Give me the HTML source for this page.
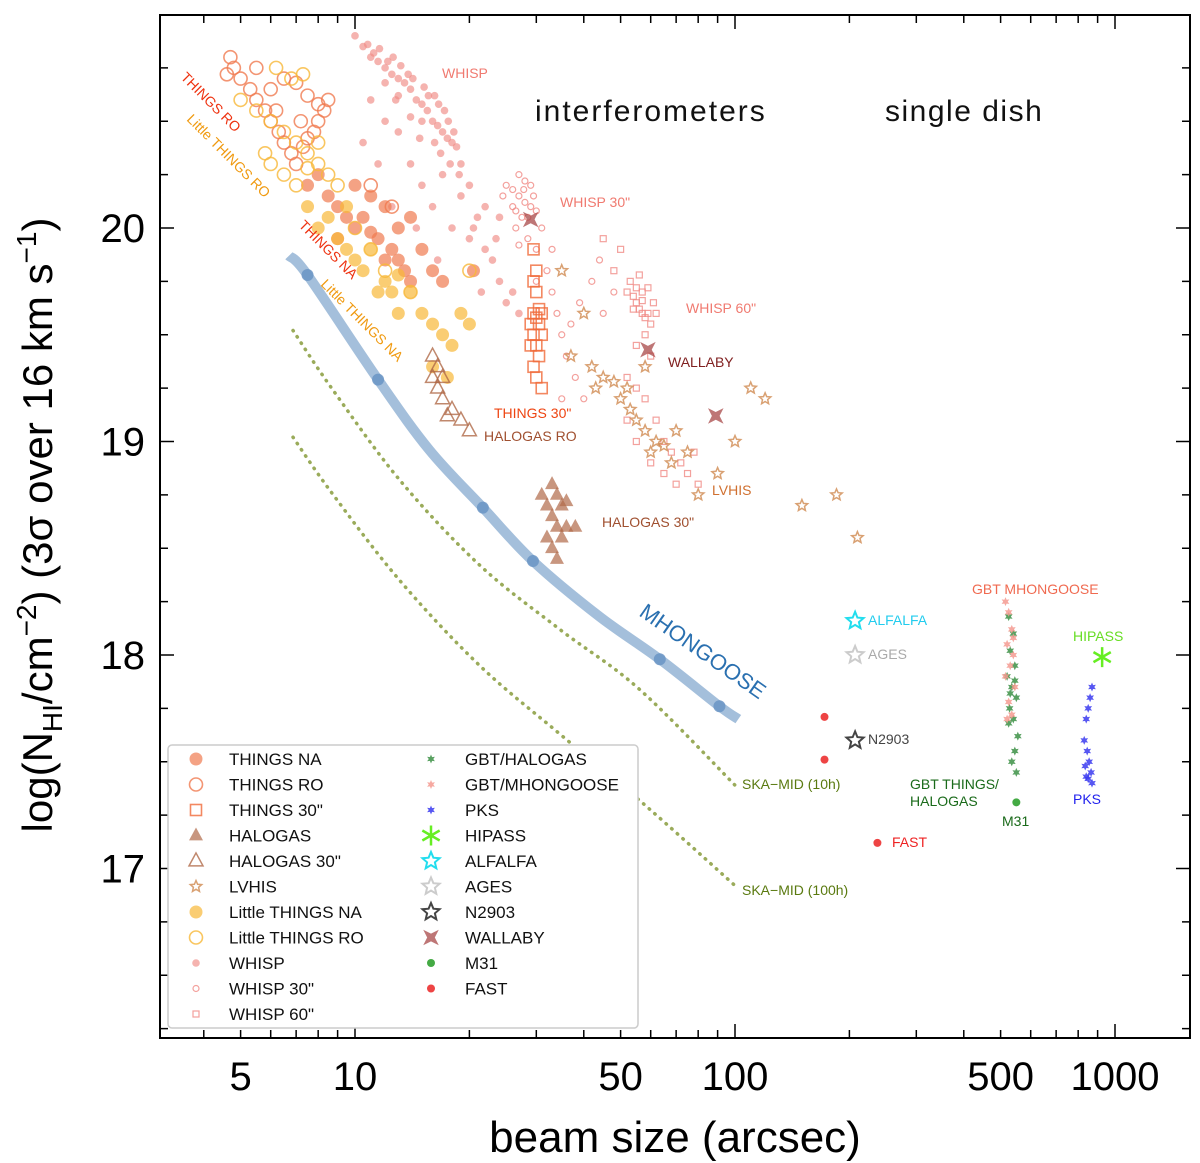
<!DOCTYPE html>
<html><head><meta charset="utf-8">
<style>
html,body{margin:0;padding:0;background:#fff;}
svg{display:block;font-family:"Liberation Sans",sans-serif;}
</style></head>
<body>
<svg id="chart" width="1200" height="1163" viewBox="0 0 1200 1163" xmlns="http://www.w3.org/2000/svg">
<g id="plot"></g>
</svg>
<script>
// ---- data ----
const xTicks=[5,10,50,100,500,1000];
const yTicks=[17,18,19,20];
const mhongooseLine=[[6.7,19.87],[7.5,19.78],[11.5,19.29],[15.7,18.96],[21.7,18.69],[29.4,18.44],[44,18.18],[63.4,17.98],[91,17.76],[102,17.70]];
const mhongooseDots=[[7.5,19.78],[11.5,19.29],[21.7,18.69],[29.4,18.44],[63.4,17.98],[91,17.76]];
const ska10=[[6.87,19.52],[8.6,19.26],[13.1,18.82],[21.3,18.42],[34.6,18.12],[56,17.84],[100,17.39]];
const ska100=[[6.87,19.02],[8.6,18.77],[13.1,18.35],[21.3,17.95],[34.6,17.63],[56,17.32],[100,16.92]];
const whisp=[[10,20.9],[10.5,20.85],[11,20.8],[11.5,20.78],[12,20.75],[12.5,20.72],[13,20.7],[13.5,20.68],[14,20.65],[14.5,20.6],[15,20.58],[15.5,20.55],[16,20.5],[16.5,20.48],[17,20.45],[17.5,20.42],[18,20.4],[18.5,20.38],[11,20.6],[12,20.5],[10.5,20.4],[13,20.45],[14,20.3],[15,20.2],[16,20.1],[17,20.25],[18,20.0],[19,20.15],[20,19.95],[21,20.05],[22,19.9],[23,19.85],[24,19.75],[26,19.7],[25,19.65],[12.5,20.1],[11.5,20.3],[14.5,20.0],[16.5,19.85],[13,20.62],[12,20.68],[14,20.52],[15,20.5],[16.8,20.35],[19,20.3],[20,20.2],[22,20.1],[24,20.05],[27,19.6],[11.2,20.82],[12.2,20.78],[13.8,20.72],[15.2,20.66],[16.2,20.62],[17.2,20.55],[10.8,20.86],[11.6,20.84],[12.6,20.8],[13.2,20.76],[14.2,20.7],[15.6,20.62],[16.6,20.58],[17.6,20.5],[18.2,20.45],[12.8,20.6],[14.8,20.42],[16.2,20.4],[18.8,20.25],[21.5,19.7],[23.5,19.95],[20.5,20.0],[17.8,20.3]];
const whisp30=[[25,20.2],[26,20.18],[27,20.15],[28,20.12],[29,20.1],[27.5,20.05],[26.5,20.0],[28.5,19.95],[30,19.9],[29,20.2],[26,20.1],[28,20.22],[27,19.92],[30,20.08],[31,20.0],[24.5,20.15],[32,19.8],[33,19.7],[34,19.6],[35,19.5],[36,19.4],[38,19.3],[40,19.2],[35,19.2],[37,19.55],[39,19.65],[42,19.75],[45,19.6],[44,19.85],[48,19.7],[30,19.75],[33,19.9],[27,20.25],[29.5,20.15],[26.5,20.08],[28.5,20.05],[27.8,20.18]];
const whisp60=[[52,19.7],[54,19.68],[55,19.65],[56,19.62],[57,19.6],[58,19.58],[59,19.6],[60,19.55],[53,19.75],[55,19.72],[57,19.7],[61,19.65],[62,19.6],[58,19.5],[55,19.45],[60,19.4],[52,19.3],[55,19.25],[58,19.2],[62,19.1],[65,19.0],[68,18.95],[72,18.9],[75,18.85],[70,18.8],[80,18.8],[78,18.95],[65,18.85],[60,18.9],[50,19.9],[48,19.8],[45,19.95],[55,19.0],[52,19.1],[56,19.78],[59,19.72],[54,19.62],[57,19.66]];
const thingsNA=[[7.5,20.2],[8,20.25],[8.5,20.15],[9,20.1],[9.5,20.05],[10,20.0],[10.5,20.05],[11,19.98],[11.5,19.95],[12,20.1],[12.5,19.9],[13,19.85],[13.5,19.8],[14,19.75],[9,19.95],[10,20.2],[11,20.15],[12,19.85],[13,20.0],[14,20.05],[15,19.9],[16,19.8],[17,19.75],[20.5,19.8]];
const thingsRO=[[4.7,20.8],[4.8,20.75],[5,20.7],[5.3,20.65],[5.5,20.6],[5.8,20.55],[6,20.5],[6.3,20.45],[6.5,20.4],[6.8,20.35],[7,20.3],[7.3,20.38],[7.5,20.42],[7.8,20.45],[8,20.5],[8.3,20.55],[8.5,20.6],[6,20.65],[6.5,20.7],[7,20.68],[7.5,20.62],[8,20.58],[5.5,20.75],[6.2,20.55],[7.2,20.5],[11,20.2],[12.5,20.1],[4.6,20.72]];
const things30=[[29.5,19.9],[30,19.8],[29.5,19.75],[30,19.7],[30.5,19.62],[29.5,19.6],[30,19.58],[30.5,19.55],[29.5,19.5],[30,19.45],[30.5,19.4],[29.5,19.35],[30,19.3],[31,19.25],[31,19.5],[31,19.6],[29,19.55],[29,19.45]];
const ltNA=[[7.5,20.1],[8,20.0],[8.5,20.05],[9,19.95],[9.5,19.9],[10,19.85],[10.5,19.8],[11,19.9],[12,19.75],[12.5,19.7],[13,19.78],[14,19.7],[15,19.6],[16,19.55],[17,19.5],[18,19.45],[19,19.6],[20,19.55],[16,19.35],[17.5,19.3],[13,19.6],[11.5,19.7],[9.5,20.1]];
const ltRO=[[5,20.6],[5.5,20.55],[6,20.5],[6.5,20.45],[7,20.4],[7.5,20.35],[8,20.3],[8.5,20.25],[9,20.2],[6,20.3],[6.5,20.25],[7,20.2],[7.5,20.28],[8,20.4],[6.2,20.75],[6.8,20.7],[7.3,20.72],[5.8,20.35],[10,20.0],[11,19.9],[12,19.8],[14,19.7],[20,19.8]];
const halogas=[[31,18.75],[32,18.7],[33,18.65],[34,18.6],[35,18.55],[36,18.6],[33,18.5],[34,18.75],[35,18.7],[32,18.55],[34,18.45],[36,18.72],[38,18.6],[33,18.8]];
const halogas30=[[16,19.4],[16.5,19.35],[17,19.3],[16.5,19.25],[17,19.2],[18,19.15],[19,19.1],[17.5,19.12],[20,19.05],[16,19.3]];
const lvhis=[[35,19.8],[40,19.6],[37,19.4],[42,19.35],[45,19.3],[43,19.25],[48,19.28],[52,19.25],[50,19.2],[55,19.1],[58,19.05],[62,19.0],[65,18.98],[60,18.95],[68,18.9],[70,19.05],[75,18.95],[80,18.75],[90,18.85],[100,19.0],[110,19.25],[120,19.2],[150,18.7],[185,18.75],[210,18.55],[58,19.35],[53,19.15]];
const gbtHalogas=[[525,18.18],[540,18.1],[530,18.02],[545,17.95],[520,17.9],[535,17.85],[550,17.8],[528,17.75],[540,17.7],[525,17.68],[555,17.62],[545,17.55],[535,17.5],[550,17.45],[530,17.82],[545,17.88]];
const gbtMhongoose=[[515,18.25],[525,18.2],[535,18.12],[520,18.05],[540,18.0],[530,17.95],[515,17.9],[545,17.85],[525,17.78],[535,17.72],[520,17.7],[540,18.08]];
const pks=[[870,17.85],[860,17.8],[850,17.75],[840,17.7],[830,17.6],[845,17.55],[855,17.5],[835,17.48],[865,17.45],[850,17.42],[870,17.4],[840,17.43]];
const hipass=[[925,17.99]];
const alfalfa=[[207,18.16]];
const ages=[[207,18.0]];
const n2903=[[207,17.6]];
const wallaby=[[29,20.04],[59,19.43],[89,19.12]];
const m31=[[550,17.31]];
const fast=[[172,17.71],[172,17.51],[237,17.12]];

// ---- axes ----
const X0=160,X1=1190,Y0=15,Y1=1038;
const X=b=>355+(Math.log10(b)-1)*380;
const Y=v=>228-(v-20)*213.5;
const NS="http://www.w3.org/2000/svg";
const svg=document.getElementById('chart');
const plot=document.getElementById('plot');
function el(tag,attrs,parent){const e=document.createElementNS(NS,tag);for(const k in attrs)e.setAttribute(k,attrs[k]);(parent||svg).appendChild(e);return e;}
function smooth(d){const p=d.map(q=>[X(q[0]),Y(q[1])]);let s='M'+p[0][0]+','+p[0][1];
 for(let i=0;i<p.length-1;i++){const p0=p[Math.max(0,i-1)],p1=p[i],p2=p[i+1],p3=p[Math.min(p.length-1,i+2)];
  const c1=[p1[0]+(p2[0]-p0[0])/6,p1[1]+(p2[1]-p0[1])/6],c2=[p2[0]-(p3[0]-p1[0])/6,p2[1]-(p3[1]-p1[1])/6];
  s+=`C${c1[0].toFixed(1)},${c1[1].toFixed(1)} ${c2[0].toFixed(1)},${c2[1].toFixed(1)} ${p2[0].toFixed(1)},${p2[1].toFixed(1)}`;}
 return s;}

function starPath(cx,cy,r,n,inner){let d='';for(let i=0;i<2*n;i++){const rr=i%2?r*inner:r;const a=-Math.PI/2+i*Math.PI/n;d+=(i?'L':'M')+(cx+rr*Math.cos(a)).toFixed(1)+','+(cy+rr*Math.sin(a)).toFixed(1);}return d+'Z';}
function marker(kind,cx,cy,s,fill,stroke,sw,op,g){
  let e;
  if(kind==='circle')e=el('circle',{cx:cx,cy:cy,r:s,fill:fill,stroke:stroke,'stroke-width':sw,opacity:op},g);
  else if(kind==='square')e=el('rect',{x:cx-s,y:cy-s,width:2*s,height:2*s,fill:fill,stroke:stroke,'stroke-width':sw,opacity:op},g);
  else if(kind==='tri')e=el('path',{d:`M${cx},${cy-s*1.15}L${cx+s},${cy+s*0.7}L${cx-s},${cy+s*0.7}Z`,fill:fill,stroke:stroke,'stroke-width':sw,opacity:op},g);
  else if(kind==='star')e=el('path',{d:starPath(cx,cy,s,5,0.45),fill:fill,stroke:stroke,'stroke-width':sw,opacity:op},g);
  else if(kind==='bow')e=el('path',{d:starPath(cx,cy,s,4,0.35),fill:fill,stroke:stroke,'stroke-width':sw,opacity:op,transform:`rotate(45 ${cx} ${cy})`},g);
  else if(kind==='hex')e=el('path',{d:starPath(cx,cy,s,6,0.5),fill:fill,stroke:stroke,'stroke-width':sw,opacity:op},g);
  else if(kind==='ast'){e=el('g',{stroke:stroke,'stroke-width':sw,opacity:op},g);for(let i=0;i<3;i++){const a=Math.PI/2+i*Math.PI/3;el('line',{x1:cx-s*Math.cos(a),y1:cy-s*Math.sin(a),x2:cx+s*Math.cos(a),y2:cy+s*Math.sin(a)},e);}}
  return e;
}
const series=[
 {name:'whisp',label:'WHISP',data:whisp,k:'circle',s:3.8,f:'#f08a84',st:'none',w:0,o:0.65},
 {name:'whisp-30',label:'WHISP 30"',data:whisp30,k:'circle',s:3,f:'none',st:'#f08a84',w:1.2,o:0.8},
 {name:'whisp-60',label:'WHISP 60"',data:whisp60,k:'square',s:3,f:'none',st:'#f08a84',w:1.2,o:0.8},
 {name:'things-na',label:'THINGS NA',data:thingsNA,k:'circle',s:6.5,f:'#f07a50',st:'none',w:0,o:0.7},
 {name:'things-ro',label:'THINGS RO',data:thingsRO,k:'circle',s:6.5,f:'none',st:'#f07a50',w:1.6,o:0.8},
 {name:'things-30',label:'THINGS 30"',data:things30,k:'square',s:5.5,f:'none',st:'#f06a3a',w:1.6,o:0.8},
 {name:'little-things-na',label:'Little THINGS NA',data:ltNA,k:'circle',s:6.5,f:'#f8b838',st:'none',w:0,o:0.7},
 {name:'little-things-ro',label:'Little THINGS RO',data:ltRO,k:'circle',s:6.5,f:'none',st:'#f8b838',w:1.6,o:0.8},
 {name:'halogas',label:'HALOGAS',data:halogas,k:'tri',s:7,f:'#b06a48',st:'none',w:0,o:0.7},
 {name:'halogas-30',label:'HALOGAS 30"',data:halogas30,k:'tri',s:7,f:'none',st:'#b06a48',w:1.5,o:0.8},
 {name:'lvhis',label:'LVHIS',data:lvhis,k:'star',s:6,f:'none',st:'#d08a50',w:1.5,o:0.8},
 {name:'gbt-halogas',label:'GBT/HALOGAS',data:gbtHalogas,k:'hex',s:4.5,f:'#2f8a3a',st:'none',w:0,o:0.8},
 {name:'gbt-mhongoose',label:'GBT/MHONGOOSE',data:gbtMhongoose,k:'hex',s:4.5,f:'#f49a90',st:'none',w:0,o:0.85},
 {name:'pks',label:'PKS',data:pks,k:'hex',s:4.5,f:'#3a3af0',st:'none',w:0,o:0.85},
 {name:'hipass',label:'HIPASS',data:hipass,k:'ast',s:10,f:'none',st:'#66ee22',w:2.5,o:1},
 {name:'alfalfa',label:'ALFALFA',data:alfalfa,k:'star',s:9,f:'none',st:'#22ddee',w:2,o:1},
 {name:'ages',label:'AGES',data:ages,k:'star',s:9,f:'none',st:'#cccccc',w:2,o:1},
 {name:'n2903',label:'N2903',data:n2903,k:'star',s:9,f:'none',st:'#444444',w:2,o:1},
 {name:'wallaby',label:'WALLABY',data:wallaby,k:'bow',s:11,f:'#a84848',st:'none',w:0,o:0.75},
 {name:'m31',label:'M31',data:m31,k:'circle',s:4,f:'#44aa44',st:'none',w:0,o:1},
 {name:'fast',label:'FAST',data:fast,k:'circle',s:4,f:'#ee4444',st:'none',w:0,o:1}
];

[[ska10,'ska-mid-10h-line'],[ska100,'ska-mid-100h-line']].forEach(([d,n])=>{
  const p=el('path',{d:smooth(d),fill:'none',stroke:'#9aab5a','stroke-width':3.5,'stroke-dasharray':'0.5 7','stroke-linecap':'round'},plot);
  
  
});
const mh=el('path',{d:smooth(mhongooseLine),fill:'none',stroke:'#7ea4cc','stroke-width':10,'stroke-opacity':0.7,'stroke-linejoin':'round','stroke-linecap':'butt'},plot);


mhongooseDots.forEach(q=>{const c=el('circle',{cx:X(q[0]),cy:Y(q[1]),r:6,fill:'#6a94c4',opacity:0.85},plot);
 
 });

series.forEach(s=>{
  const g=el('g',{},plot);
  
  
  s.data.forEach(q=>{const m=marker(s.k,X(q[0]),Y(q[1]),s.s,s.f,s.st,s.w,s.o,g);
    
    });
});

const frame=el('rect',{x:X0,y:Y0,width:X1-X0,height:Y1-Y0,fill:'none',stroke:'#000','stroke-width':2});


for(let e=0;e<4;e++)for(let m=1;m<10;m++){const v=m*Math.pow(10,e);const x=X(v);if(x<X0||x>X1)continue;const L=m===1?14:8;
 el('line',{x1:x,y1:Y1,x2:x,y2:Y1-L,stroke:'#000','stroke-width':1.5});el('line',{x1:x,y1:Y0,x2:x,y2:Y0+L,stroke:'#000','stroke-width':1.5});}
for(let v=16.25;v<21;v+=0.25){const y=Y(v);if(y<Y0||y>Y1)continue;const L=Math.abs(v-Math.round(v))<0.01?14:8;
 el('line',{x1:X0,y1:y,x2:X0+L,y2:y,stroke:'#000','stroke-width':1.5});el('line',{x1:X1,y1:y,x2:X1-L,y2:y,stroke:'#000','stroke-width':1.5});}
xTicks.forEach(v=>{const t=el('text',{x:X(v),y:1090,'font-size':40,'text-anchor':'middle',fill:'#000'});t.textContent=v;
 
 });
yTicks.forEach(v=>{const t=el('text',{x:145,y:Y(v)+14,'font-size':40,'text-anchor':'end',fill:'#000'});t.textContent=v;
 
 });

function txt(x,y,s,c,fs,name,rot){const t=el('text',{x:x,y:y,'font-size':fs,fill:c});if(rot)t.setAttribute('transform',`rotate(${rot} ${x} ${y})`);t.textContent=s;
 
 return t;}
txt(535,121,'interferometers','#111',30,'interferometers-label').setAttribute('letter-spacing','2');
txt(885,121,'single dish','#111',30,'single-dish-label').setAttribute('letter-spacing','1.5');
txt(442,78,'WHISP','#f07a70',14,'whisp-label');
txt(560,207,'WHISP 30"','#f07a70',14,'whisp-30-label');
txt(686,313,'WHISP 60"','#f07a70',14,'whisp-60-label');
txt(668,367,'WALLABY','#802020',14,'wallaby-label');
txt(494,418,'THINGS 30"','#ee4411',14,'things-30-label');
txt(484,441,'HALOGAS RO','#a05030',14,'halogas-ro-label');
txt(602,527,'HALOGAS 30"','#a05030',14,'halogas-30-label');
txt(712,495,'LVHIS','#d07030',14,'lvhis-label');
txt(180,78,'THINGS RO','#ee3311',14,'things-ro-label',45);
txt(186,120,'Little THINGS RO','#f09a10',14,'little-things-ro-label',45);
txt(298,226,'THINGS NA','#ee3311',14,'things-na-label',45);
txt(320,285,'Little THINGS NA','#f09a10',14,'little-things-na-label',45);
txt(638,615,'MHONGOOSE','#2a70b0',22,'mhongoose-label',35);
txt(742,789,'SKA−MID (10h)','#5a7a10',14,'ska-10h-label');
txt(742,895,'SKA−MID (100h)','#5a7a10',14,'ska-100h-label');
txt(868,625,'ALFALFA','#22ccee',14,'alfalfa-label');
txt(868,659,'AGES','#aaaaaa',14,'ages-label');
txt(868,744,'N2903','#444',14,'n2903-label');
txt(892,847,'FAST','#ee2222',14,'fast-label');
txt(972,594,'GBT MHONGOOSE','#f06a50',14,'gbt-mhongoose-label');
txt(1073,641,'HIPASS','#66dd22',14,'hipass-label');
txt(1073,804,'PKS','#2222ee',14,'pks-label');
txt(910,789,'GBT THINGS/','#1a6a1a',14,'gbt-things-label');
txt(910,806,'HALOGAS','#1a6a1a',14,'gbt-halogas-label');
txt(1002,826,'M31','#1a6a1a',14,'m31-label');

const xt=txt(675,1152,'beam size (arcsec)','#000',44,'x-axis-title');xt.setAttribute('text-anchor','middle');
const yt=el('text',{x:0,y:0,'font-size':42,fill:'#000','text-anchor':'middle',transform:'translate(52 525) rotate(-90)'});


yt.innerHTML='log(N<tspan font-size="28" dy="10">HI</tspan><tspan dy="-10">/cm</tspan><tspan font-size="28" dy="-16">−2</tspan><tspan dy="16">) (3σ over 16 km s</tspan><tspan font-size="28" dy="-16">−1</tspan><tspan dy="16">)</tspan>';

const lg=el('g',{});


el('rect',{x:168,y:745,width:470,height:283,fill:'#fff',stroke:'#ccc','stroke-width':1.5,rx:4},lg);
const col1=['things-na','things-ro','things-30','halogas','halogas-30','lvhis','little-things-na','little-things-ro','whisp','whisp-30','whisp-60'];
const col2=['gbt-halogas','gbt-mhongoose','pks','hipass','alfalfa','ages','n2903','wallaby','m31','fast'];
[[col1,196,229],[col2,431,465]].forEach(([names,mx,tx])=>{
 names.forEach((n,i)=>{const s=series.find(z=>z.name===n);const y=759+i*25.5;
  const m=marker(s.k,mx,y,s.s,s.f,s.st,s.w,s.o,lg);
  
  
  const t=el('text',{x:tx,y:y+6,'font-size':17,fill:'#111'},lg);t.textContent=s.label;
  
  
 });
});
</script>
</body></html>
